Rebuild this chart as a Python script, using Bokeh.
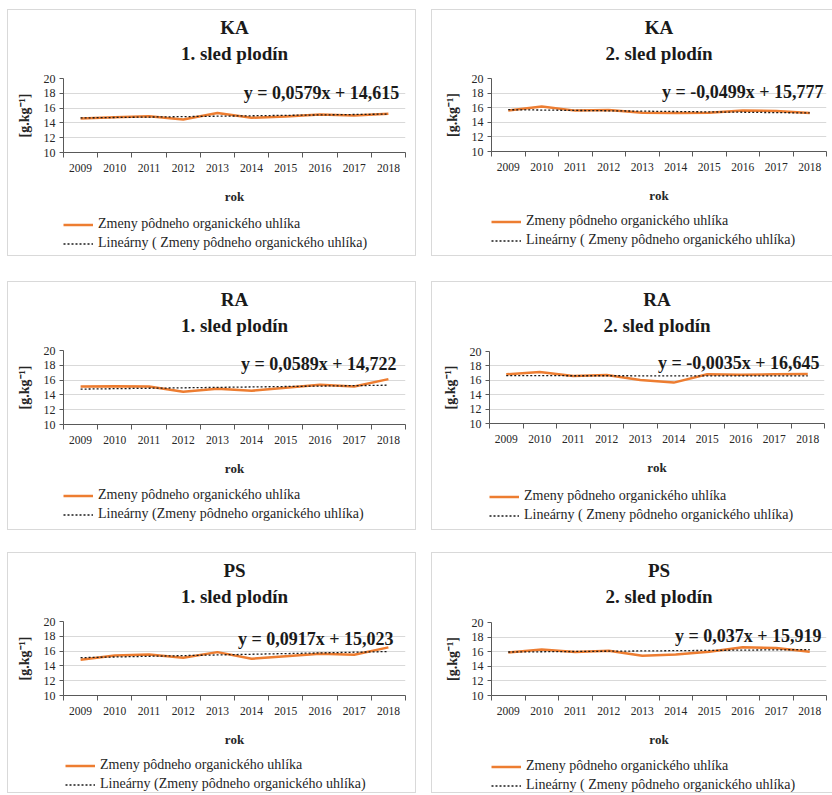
from bokeh.plotting import figure
from bokeh.models import (FixedTicker, Label, Legend, LegendItem, Title, Spacer)
from bokeh.layouts import row, column
from bokeh.embed import file_html
from bokeh.resources import INLINE

# ---------------- data ----------------
years = ["2009", "2010", "2011", "2012", "2013", "2014", "2015", "2016", "2017", "2018"]

ka1 = [14.60, 14.75, 14.90, 14.45, 15.35, 14.70, 14.85, 15.15, 15.00, 15.25]
ka2 = [15.63, 16.15, 15.60, 15.68, 15.30, 15.27, 15.30, 15.63, 15.55, 15.27]
ra1 = [15.14, 15.18, 15.14, 14.42, 14.83, 14.56, 14.96, 15.37, 15.14, 16.13]
ra2 = [16.83, 17.15, 16.60, 16.73, 16.05, 15.68, 16.83, 16.78, 16.83, 16.87]
ps1 = [14.83, 15.41, 15.55, 15.10, 15.86, 14.96, 15.32, 15.64, 15.50, 16.50]
ps2 = [15.90, 16.30, 15.95, 16.14, 15.45, 15.60, 16.00, 16.60, 16.50, 16.00]

site_names = ["KA", "KA", "RA", "RA", "PS", "PS"]
rotation_names = ["1. sled plodín", "2. sled plodín", "1. sled plodín",
                  "2. sled plodín", "1. sled plodín", "2. sled plodín"]
slopes = [0.0579, -0.0499, 0.0589, -0.0035, 0.0917, 0.037]
intercepts = [14.615, 15.777, 14.722, 16.645, 15.023, 15.919]
series_label = "Zmeny pôdneho organického uhlíka"
trend_labels = ["Lineárny ( Zmeny pôdneho organického uhlíka)",
                "Lineárny ( Zmeny pôdneho organického uhlíka)",
                "Lineárny (Zmeny pôdneho organického uhlíka)",
                "Lineárny ( Zmeny pôdneho organického uhlíka)",
                "Lineárny (Zmeny pôdneho organického uhlíka)",
                "Lineárny ( Zmeny pôdneho organického uhlíka)"]
y_ticks = [10, 12, 14, 16, 18, 20]
y_label = "[g.kg⁻¹]"
x_label = "rok"

series = [ka1, ka2, ra1, ra2, ps1, ps2]

# ---------------- layout / style per panel ----------------
FONT = "Liberation Serif"
ORANGE = "#ED7D31"
GRID = "#d9d9d9"
AXIS = "#595959"
TXT = "#262626"
TREND = "#1a1a1a"
BORDER = "1px solid #d9d9d9"
BELOW = 57          # space under the frame for tick labels and "rok"
ROW_H = 19          # legend row height
TH = 56             # height of the title strip
SUB_STANDOFF = 6    # room under the second title line for descenders

# w,h: panel size; l,r: frame side offsets; t: frame top; fb: frame bottom (from panel top)
# ex,ey: equation anchor; lx: legend offset from frame left; r1: first legend row below frame
panels = [
    dict(w=409, h=247, l=55, r=12, t=69, fb=143, ex=10.32, ey=18.1, lx=0, r1=72, right=False),
    dict(w=401, h=247, l=59, r=7, t=69, fb=142, ex=10.41, ey=18.1, lx=0, r1=70, right=True),
    dict(w=409, h=249, l=55, r=12, t=69, fb=143, ex=10.24, ey=18.2, lx=0, r1=71, right=False),
    dict(w=401, h=249, l=57, r=9, t=70, fb=142, ex=10.35, ey=18.4, lx=0, r1=73, right=True),
    dict(w=409, h=241, l=55, r=12, t=69, fb=143, ex=10.15, ey=17.7, lx=2, r1=70, right=False),
    dict(w=401, h=241, l=59, r=7, t=70, fb=143, ex=10.35, ey=18.1, lx=0, r1=71, right=True),
]


def fmt(v):
    return str(v).replace(".", ",")


def side_styles(right, top=False, bottom=False):
    st = {"border-left": BORDER, "box-sizing": "border-box"}
    if not right:
        st["border-right"] = BORDER
    if top:
        st["border-top"] = BORDER
    if bottom:
        st["border-bottom"] = BORDER
    return st


def make_panel(i):
    cfg = panels[i]
    vals = series[i]
    xs = list(range(1, len(years) + 1))
    trend = [slopes[i] * x + intercepts[i] for x in xs]

    # ---- title strip (two bold lines, centred over the plot area) ----
    tf = figure(width=cfg["w"], height=TH, x_range=(0, 1), y_range=(0, 1),
                x_axis_type=None, y_axis_type=None, output_backend="svg",
                toolbar_location=None, min_border=0)
    tf.styles = side_styles(cfg["right"], top=True)
    tf.outline_line_color = None
    tf.xgrid.visible = False
    tf.ygrid.visible = False
    for txt, so in ((site_names[i], 0), (rotation_names[i], SUB_STANDOFF)):
        tf.add_layout(Title(text=txt, align="center", text_font=FONT, text_font_style="bold",
                            text_font_size="19px", text_color="#1a1a1a", standoff=so), "below")

    # ---- chart ----
    plot_h = cfg["fb"] + BELOW - TH
    p = figure(width=cfg["w"], height=plot_h, x_range=(0.5, 10.5), y_range=(10, 20),
               output_backend="svg", toolbar_location=None,
               min_border_left=cfg["l"], min_border_right=cfg["r"],
               min_border_top=cfg["t"] - TH, min_border_bottom=BELOW)
    p.styles = side_styles(cfg["right"])
    p.outline_line_color = None
    p.background_fill_color = "white"
    p.border_fill_color = "white"

    p.xgrid.visible = False
    p.ygrid.grid_line_color = GRID
    p.ygrid.grid_line_width = 1

    p.yaxis.ticker = FixedTicker(ticks=y_ticks)
    p.yaxis.axis_line_color = AXIS
    p.yaxis.major_tick_line_color = AXIS
    p.yaxis.major_tick_out = 4
    p.yaxis.major_tick_in = 0
    p.yaxis.minor_tick_line_color = None
    p.yaxis.major_label_standoff = 4
    p.yaxis.major_label_text_font = FONT
    p.yaxis.major_label_text_font_size = "12px"
    p.yaxis.major_label_text_color = TXT
    p.yaxis.axis_label = y_label
    p.yaxis.axis_label_text_font = FONT
    p.yaxis.axis_label_text_font_style = "bold"
    p.yaxis.axis_label_text_font_size = "14px"
    p.yaxis.axis_label_text_color = TXT
    p.yaxis.axis_label_standoff = 9

    p.xaxis.ticker = FixedTicker(ticks=xs, minor_ticks=[x - 0.5 for x in xs] + [10.5])
    p.xaxis.major_label_overrides = {x: y for x, y in zip(xs, years)}
    p.xaxis.axis_line_color = AXIS
    p.xaxis.major_tick_line_color = None
    p.xaxis.major_tick_out = 0
    p.xaxis.major_tick_in = 0
    p.xaxis.minor_tick_line_color = AXIS
    p.xaxis.minor_tick_out = 5
    p.xaxis.minor_tick_in = 0
    p.xaxis.major_label_standoff = 6
    p.xaxis.major_label_text_font = FONT
    p.xaxis.major_label_text_font_size = "11.5px"
    p.xaxis.major_label_text_color = TXT
    p.xaxis.axis_label = x_label
    p.xaxis.axis_label_text_font = FONT
    p.xaxis.axis_label_text_font_style = "bold"
    p.xaxis.axis_label_text_font_size = "13px"
    p.xaxis.axis_label_text_color = TXT
    p.xaxis.axis_label_standoff = 14

    p.line(xs, vals, line_color=ORANGE, line_width=2.5)
    p.line(xs, trend, line_color=TREND, line_width=1.3, line_dash="2 2")

    eq = "y = " + fmt(slopes[i]) + "x + " + fmt(intercepts[i])
    p.add_layout(Label(x=cfg["ex"], y=cfg["ey"], text=eq, text_align="right",
                       text_baseline="middle", text_font=FONT, text_font_style="bold",
                       text_font_size="18px", text_color="#1a1a1a"))

    # ---- legend strip ----
    leg_h = cfg["h"] - cfg["fb"] - BELOW
    q = figure(width=cfg["w"], height=leg_h, x_range=(0, 1), y_range=(0, 1),
               x_axis_type=None, y_axis_type=None, output_backend="svg",
               toolbar_location=None, min_border=0)
    q.styles = side_styles(cfg["right"], bottom=True)
    q.outline_line_color = None
    q.xgrid.visible = False
    q.ygrid.visible = False
    # legend keys only (placed outside the visible range)
    k1 = q.line([-5, -4], [-5, -5], line_color=ORANGE, line_width=2.5)
    k2 = q.line([-5, -4], [-5, -5], line_color=TREND, line_width=1.3, line_dash="2 2")
    top = cfg["r1"] - BELOW - ROW_H / 2
    ly = leg_h - (top + 2 * ROW_H)
    leg = Legend(items=[LegendItem(label=series_label, renderers=[k1]),
                        LegendItem(label=trend_labels[i], renderers=[k2])],
                 location=(cfg["lx"], ly), padding=0, margin=0, spacing=0,
                 glyph_height=ROW_H, label_height=ROW_H, glyph_width=30,
                 label_standoff=5, border_line_color=None, background_fill_alpha=0,
                 label_text_font=FONT, label_text_font_size="14px", label_text_color=TXT)
    q.add_layout(leg)
    return column(tf, p, q)


cols = [make_panel(i) for i in range(6)]

layout = column(
    Spacer(height=9),
    row(Spacer(width=7), cols[0], Spacer(width=15), cols[1]),
    Spacer(height=25),
    row(Spacer(width=7), cols[2], Spacer(width=15), cols[3]),
    Spacer(height=22),
    row(Spacer(width=7), cols[4], Spacer(width=15), cols[5]),
)

open("out.html", "w").write(file_html(layout, INLINE))
